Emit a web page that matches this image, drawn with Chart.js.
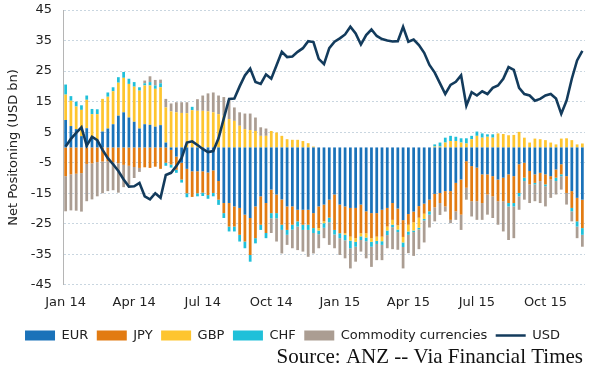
<!DOCTYPE html>
<html>
<head>
<meta charset="utf-8">
<script src="https://cdn.jsdelivr.net/npm/chart.js@4/dist/chart.umd.min.js"></script>
<style>
  html, body { margin: 0; padding: 0; background: #fff; }
  #wrap { width: 599px; height: 374px; }
</style>
</head>
<body>
<div id="wrap"><canvas id="myChart" width="599" height="374"></canvas></div>
<script>
// weekly CFTC-style readings, first week ending Fri 3 Jan 2014
const firstWeek = "2014-01-03";
const weekCount = 99;
const monthNames = ["Jan", "Feb", "Mar", "Apr", "May", "Jun", "Jul", "Aug", "Sep", "Oct", "Nov", "Dec"];
const quarterMonths = [0, 3, 6, 9];

const eur = [9.0, 7.0, 6.0, 3.7, 6.3, 3.2, 2.1, 5.2, 6.2, 7.6, 10.4, 11.5, 9.8, 8.4, 6.2, 7.6, 7.4, 6.8, 7.3,
  1.6, -0.8, -3.0, -5.0, -7.0, -7.8, -7.8, -7.8, -8.2, -7.5,
  -11.0, -18.2, -18.2, -19.3, -19.8, -22.0, -23.1, -19.3, -16.0, -18.2,
  -13.8, -15.4, -17.0, -19.3, -19.3, -20.4, -20.4, -20.4, -21.5, -19.3, -18.7,
  -17.1, -15.4, -18.7, -19.3, -19.8, -19.8, -18.7, -20.9, -21.5, -21.5, -20.4, -19.8,
  -18.2, -20.0, -23.8, -21.8, -21.0, -19.2, -18.4, -17.1, -15.2, -14.9, -14.3, -14.3,
  -11.6, -10.5, -4.5, -6.1, -6.6, -8.8, -8.8, -9.4, -10.5, -9.9, -8.8, -9.4, -5.5, -5.0, -7.7, -8.8, -8.3, -8.8, -9.4, -7.2, -5.5, -9.4, -14.3, -16.5, -17.1];

const jpy = [-9.4, -8.8, -8.6, -8.4, -5.4, -5.2, -4.8, -4.6, -4.5, -4.8, -5.2, -5.7, -6.0, -6.4, -6.7, -6.5, -6.7, -6.3, -7.0,
  -5.0, -4.8, -4.3, -5.5, -8.0, -8.4, -7.2, -7.0, -7.4, -7.4,
  -6.1, -3.3, -7.7, -6.6, -8.8, -8.8, -12.1, -10.4, -9.3, -9.8,
  -7.7, -6.1, -8.3, -7.7, -6.0, -3.8, -4.9, -4.9, -4.9, -7.1, -5.5,
  -5.9, -11.6, -9.4, -8.8, -9.4, -9.9, -9.4, -7.2, -8.2, -7.7, -8.8, -6.1,
  -5.5, -5.5, -5.5, -3.5, -3.5, -3.8, -3.3, -3.8, -4.4, -3.3, -5.0, -9.4,
  -9.3, -11.5, -8.7, -11.5, -11.0, -9.4, -6.6, -6.6, -7.1, -7.7, -9.4, -8.8, -9.4, -4.9, -4.4, -2.8, -2.7, -3.3, -1.1, -2.7, -3.3, -5.5, -5.5, -7.7, -9.3];

const gbp = [8.3, 8.3, 7.4, 8.6, 9.3, 7.7, 8.8, 10.7, 10.4, 10.8, 10.8, 11.3, 11.0, 11.5, 12.4, 12.7, 12.9, 12.4, 12.4,
  11.5, 11.8, 11.5, 11.3, 11.2, 12.2, 12.0, 12.0, 11.8, 11.5,
  10.9, 10.4, 9.3, 8.7, 7.1, 6.0, 5.7, 5.4, 3.8, 3.8,
  5.4, 4.9, 3.8, 2.7, 2.5, 2.5, 2.1, 1.4, 0.3, -0.8, -0.6,
  0, 0, 0, -0.5, -1.3, -1.2, -1.0, -1.4, -1.2, -1.4, -1.5, -1.3,
  -1.6, -1.4, -1.8, -2.2, -2.7, -3.3, -1.7, 0, 0.3, 0.3, 1.6, 2.1,
  2.1, 1.6, 1.3, 2.7, 3.8, 3.2, 3.5, 3.2, 4.6, 4.4, 4.0, 4.1, 5.1, 3.2, 1.6, 2.9, 2.7, 2.4, 1.6, 1.0, 2.9, 3.0, 2.4, 1.0, 1.3];

const chf = [3.3, 1.5, 1.6, 1.5, 1.4, 1.7, 1.6, 0, 1.4, 1.3, 1.8, 1.9, 1.7, 1.5, 1.1, 0.7, 1.1, 1.1, 1.3,
  -1.0, -1.0, -1.0, -1.0, -1.3, 1.1, -1.0, -1.1, -1.2, -1.1,
  -1.7, -1.6, -1.6, -1.6, -2.2, -2.2, -2.2, -1.7, -1.7, -1.7,
  -1.7, -1.7, -1.7, -1.6, -1.6, -1.7, -1.7, -1.7, -1.6, -1.2, -1.5,
  -1.5, -1.5, -1.6, -1.8, -2.5, -1.6, -1.2, -1.2, -1.6, -1.0, -1.2, -1.5,
  -0.8, -0.8, -1.5, -1.1, -0.5, -0.5, -0.5, -1.1, 0.7, 1.3, 1.6, 1.7,
  1.4, 1.4, 1.7, 1.1, 1.4, 1.4, 0.8, 1.1, 0, 0, -1.1, -1.1, -1.1, -1.1, 0, -0.5, 0, -0.6, 0, -1.1, -0.6, 0, -1.1, -1.7, -2.2];

const commodity = [-11.5, -11.8, -12.1, -12.6, -12.2, -11.8, -11.2, -10.4, -9.8, -9.2, -9.6, -7.3, -6.2, -3.6, -1.3, 0.9, 1.9, 1.8, 1.2,
  2.8, 2.6, 3.3, 3.5, 3.6, 0, 3.8, 5.0, 5.9, 6.5,
  6.1, 6.1, 6.2, 4.4, 4.4, 5.1, 5.4, 4.4, 2.8, 2.4,
  -4.8, -7.6, -7.7, -3.3, -6.1, -7.7, -7.1, -8.8, -6.7, -4.6, -3.4,
  -7.4, -4.5, -5.5, -5.9, -6.6, -4.9, -3.8, -5.6, -6.6, -5.3, -5.0, -4.3,
  -7.2, -5.8, -7.0, -6.0, -7.8, -6.5, -7.2, -4.2, -4.6, -3.9, -1.7, -1.1,
  -2.8, -5.0, -3.9, -5.0, -6.1, -5.5, -6.6, -7.1, -7.7, -9.9, -11.0, -10.4, -4.4, -6.1, -6.1, -5.5, -7.2, -6.6, -6.0, -4.4, -4.4, -3.8, -3.3, -3.8, -3.9];

const usd = [0.3, 2.8, 4.8, 6.6, 0.6, 3.5, 2.4, -0.8, -3.5, -5.5, -7.7, -10.5, -12.8, -12.7, -11.6, -16.0, -17.0, -15.0, -16.5,
  -9.0, -8.3, -6.1, -3.4, 1.6, 2.0, 0.8, -0.5, -1.5, -1.2,
  3.0, 9.5, 15.9, 16.0, 20.0, 23.6, 25.8, 21.4, 20.8, 23.9,
  22.5, 26.9, 31.3, 29.6, 29.8, 31.3, 32.5, 34.8, 34.5, 29.0, 27.3,
  32.5, 34.6, 35.7, 37.0, 39.5, 37.3, 33.7, 36.8, 38.6, 36.5, 35.5, 35.0,
  34.7, 34.8, 39.5, 34.6, 35.3, 33.5, 31.0, 27.0, 24.5, 21.0, 17.5, 20.5,
  21.5, 23.6, 13.7, 18.1, 17.0, 18.4, 17.5, 19.5, 20.3, 22.5, 26.3, 25.4, 19.5, 17.5, 17.0, 15.3, 15.9, 17.0, 17.5, 16.0, 11.0, 15.3, 22.5, 28.5, 31.6];

const yTicks = { min: -45, max: 45, step: 10 };
const sourceText = "Source: ANZ -- Via Financial Times";

let weeks = [];
let d = new Date(firstWeek + "T12:00:00Z");
for (let i = 0; i < weekCount; i++) {
    weeks.push(d.toISOString().slice(0, 10));
    d = new Date(d.getTime() + 7 * 86400000);
}

function quarterLabel(iso) {
    const dt = new Date(iso + "T12:00:00Z");
    const m = dt.getUTCMonth();
    if (quarterMonths.includes(m) && dt.getUTCDate() <= 7) {
        return monthNames[m] + " " + String(dt.getUTCFullYear()).slice(2);
    }
    return "";
}

const FONT = "'DejaVu Sans', Verdana, sans-serif";

function barSet(label, values, color) {
    return {
        type: "bar",
        label: label,
        data: values,
        backgroundColor: color,
        borderWidth: 0,
        pointStyle: "rect",
        barPercentage: 0.52,
        categoryPercentage: 1.0,
        stack: "fx"
    };
}

const sourcePlugin = {
    id: "sourceNote",
    afterDraw(chart) {
        const c = chart.ctx;
        c.save();
        c.font = "21px 'Liberation Serif', 'Times New Roman', serif";
        c.fillStyle = "#111";
        c.textAlign = "right";
        c.textBaseline = "alphabetic";
        c.fillText(sourceText, 583, 363);
        c.restore();
    }
};

const ctx = document.getElementById("myChart");
const chart = new Chart(ctx, {
    data: {
        labels: weeks,
        datasets: [
            barSet("EUR", eur, "#1a72b9"),
            barSet("JPY", jpy, "#e27b12"),
            barSet("GBP", gbp, "#fec52f"),
            barSet("CHF", chf, "#20c0d9"),
            barSet("Commodity currencies", commodity, "#ab9d92"),
            {
                type: "line",
                label: "USD",
                data: usd,
                borderColor: "#133b5c",
                backgroundColor: "#133b5c",
                borderWidth: 2.6,
                pointRadius: 0,
                pointStyle: "line",
                tension: 0,
                stack: "usd",
                order: -1
            }
        ]
    },
    options: {
        responsive: false,
        animation: false,
        devicePixelRatio: 1,
        layout: { padding: { top: 10, right: 14, bottom: 22, left: 0 } },
        scales: {
            x: {
                stacked: true,
                grid: { display: false, drawTicks: false },
                border: { display: false },
                ticks: {
                    autoSkip: false,
                    maxRotation: 0,
                    padding: 10,
                    color: "#222",
                    font: { family: FONT, size: 13 },
                    callback: function (value) {
                        return quarterLabel(this.getLabelForValue(value));
                    }
                }
            },
            y: {
                stacked: true,
                min: yTicks.min,
                max: yTicks.max,
                afterFit: (scale) => {
                    scale.width = 63;
                    scale.paddingTop = 0;
                    scale.paddingBottom = 0;
                },
                ticks: {
                    stepSize: yTicks.step,
                    padding: 11,
                    color: "#222",
                    font: { family: FONT, size: 13 }
                },
                grid: {
                    color: "#c9d6e0",
                    lineWidth: 1,
                    drawTicks: false
                },
                border: { display: true, color: "#b5b5b5", dash: [2, 2] },
                title: {
                    display: true,
                    text: "Net Positoning (USD bn)",
                    color: "#222",
                    padding: { top: 6, bottom: 0 },
                    font: { family: FONT, size: 13 }
                }
            }
        },
        plugins: {
            legend: {
                position: "bottom",
                labels: {
                    usePointStyle: true,
                    pointStyleWidth: 30,
                    boxHeight: 10,
                    padding: 8.5,
                    color: "#222",
                    font: { family: FONT, size: 13 },
                    sort: (a, b) => a.datasetIndex - b.datasetIndex
                }
            },
            tooltip: { enabled: false }
        }
    },
    plugins: [sourcePlugin]
});
</script>
</body>
</html>
